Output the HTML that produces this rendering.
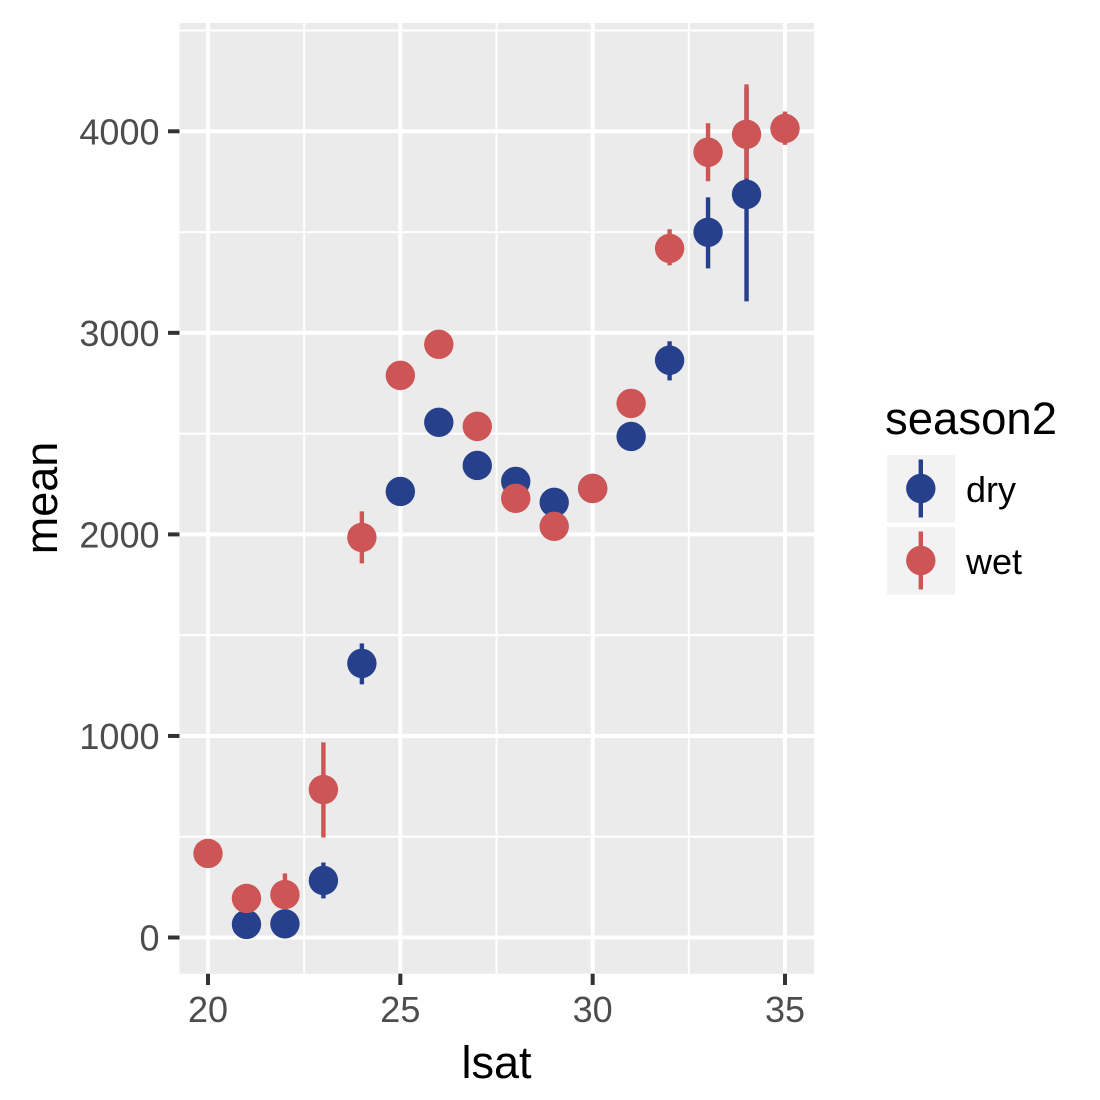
<!DOCTYPE html>
<html lang="en">
<head>
<meta charset="utf-8">
<title>Mean by lsat and season2</title>
<style>
html,body{margin:0;padding:0;background:#fff;}
svg{display:block;}
text{font-family:"Liberation Sans",Arial,sans-serif;}
</style>
</head>
<body>
<svg id="chart" xmlns="http://www.w3.org/2000/svg" width="1100" height="1100" viewBox="0 0 1100 1100">
  <rect x="0" y="0" width="1100" height="1100" fill="#fff"/>
  <rect x="179.5" y="23" width="634.5" height="950.7" fill="#EBEBEB"/>
  <g id="grid"></g>
  <g id="axes"></g>
  <g id="marks"></g>
  <text x="496.5" y="1078" font-size="45" text-anchor="middle" fill="#000">lsat</text>
  <text transform="translate(57,498) rotate(-90)" font-size="45" text-anchor="middle" fill="#000">mean</text>
  <g>
    <text x="885" y="434" font-size="45.5" fill="#000">season2</text>
    <g>
      <rect x="887" y="455" width="68" height="67.5" fill="#F2F2F2"/>
      <line x1="920.8" x2="920.8" y1="459.5" y2="517.5" stroke="#27408B" stroke-width="4.4"/>
      <circle cx="920.8" cy="488.5" r="14.7" fill="#27408B"/>
      <text x="966" y="502" font-size="36" fill="#000">dry</text>
    </g>
    <g>
      <rect x="887" y="527" width="68" height="67.5" fill="#F2F2F2"/>
      <line x1="920.8" x2="920.8" y1="531.5" y2="589.5" stroke="#CD5555" stroke-width="4.4"/>
      <circle cx="920.8" cy="560.5" r="14.7" fill="#CD5555"/>
      <text x="966" y="574" font-size="36" fill="#000">wet</text>
    </g>
  </g>
</svg>
<script>
// Chart data
const xTickLabels = [20, 25, 30, 35];
const yTickLabels = [0, 1000, 2000, 3000, 4000];
const xMinorTicks = [22.5, 27.5, 32.5];
const yMinorTicks = [500, 1500, 2500, 3500, 4500];

const dryLsat = [21, 22, 23, 24, 25, 26, 27, 28, 29, 30, 31, 32, 33, 34];
const dryMean = [65, 68, 283, 1360, 2213, 2556, 2342, 2263, 2159, 2228, 2486, 2864, 3499, 3687];
const dryLow  = [65, 68, 194, 1256, 2213, 2556, 2342, 2263, 2159, 2228, 2486, 2764, 3320, 3156];
const dryHigh = [65, 68, 372, 1459, 2213, 2556, 2342, 2263, 2159, 2228, 2486, 2958, 3672, 4218];

const wetLsat = [20, 21, 22, 23, 24, 25, 26, 27, 28, 29, 30, 31, 32, 33, 34, 35];
const wetMean = [417, 194, 213, 734, 1985, 2789, 2943, 2536, 2179, 2040, 2228, 2650, 3419, 3896, 3985, 4014];
const wetLow  = [417, 194, 150, 496, 1856, 2789, 2943, 2536, 2179, 2040, 2228, 2650, 3335, 3752, 3765, 3933];
const wetHigh = [417, 194, 318, 968, 2114, 2789, 2943, 2536, 2179, 2040, 2228, 2650, 3514, 4040, 4233, 4098];

// Axis functions
function xScale(v) { return 208 + (v - 20) * (785 - 208) / 15; }
function yScale(v) { return 937.5 - v * (937.5 - 131.3) / 4000; }

const NS = 'http://www.w3.org/2000/svg';
function make(tag, attrs, parent) {
  const el = document.createElementNS(NS, tag);
  for (const k in attrs) el.setAttribute(k, attrs[k]);
  parent.appendChild(el);
  return el;
}
const grid = document.getElementById('grid');
const axes = document.getElementById('axes');
const marks = document.getElementById('marks');

yMinorTicks.forEach(function (v) {
  const el = make('line', {x1: 179.5, x2: 814, y1: yScale(v), y2: yScale(v), stroke: '#fff', 'stroke-width': 2}, grid);
  
  
});
xMinorTicks.forEach(function (v) {
  const el = make('line', {x1: xScale(v), x2: xScale(v), y1: 23, y2: 973.7, stroke: '#fff', 'stroke-width': 2}, grid);
  
  
});
yTickLabels.forEach(function (v) {
  const y = yScale(v);
  const gl = make('line', {x1: 179.5, x2: 814, y1: y, y2: y, stroke: '#fff', 'stroke-width': 4}, grid);
  
  
  const tk = make('line', {x1: 168, x2: 179.5, y1: y, y2: y, stroke: '#333', 'stroke-width': 4}, axes);
  
  
  const tx = make('text', {x: 159.5, y: y + 13, 'font-size': 36, 'text-anchor': 'end', fill: '#4D4D4D'}, axes);
  tx.textContent = v;
  
  
});
xTickLabels.forEach(function (v) {
  const x = xScale(v);
  const gl = make('line', {x1: x, x2: x, y1: 23, y2: 973.7, stroke: '#fff', 'stroke-width': 4}, grid);
  
  
  const tk = make('line', {x1: x, x2: x, y1: 973.7, y2: 985, stroke: '#333', 'stroke-width': 4}, axes);
  
  
  const tx = make('text', {x: x, y: 1022, 'font-size': 36, 'text-anchor': 'middle', fill: '#4D4D4D'}, axes);
  tx.textContent = v;
  
  
});

function drawSeries(name, color, lsat, mean, low, high) {
  lsat.forEach(function (v, i) {
    const x = xScale(v);
    const ln = make('line', {x1: x, x2: x, y1: yScale(low[i]), y2: yScale(high[i]), stroke: color, 'stroke-width': 4.4}, marks);
    
    
    const pt = make('circle', {cx: x, cy: yScale(mean[i]), r: 14.7, fill: color}, marks);
    
    
  });
}
drawSeries('dry', '#27408B', dryLsat, dryMean, dryLow, dryHigh);
drawSeries('wet', '#CD5555', wetLsat, wetMean, wetLow, wetHigh);
</script>
</body>
</html>
